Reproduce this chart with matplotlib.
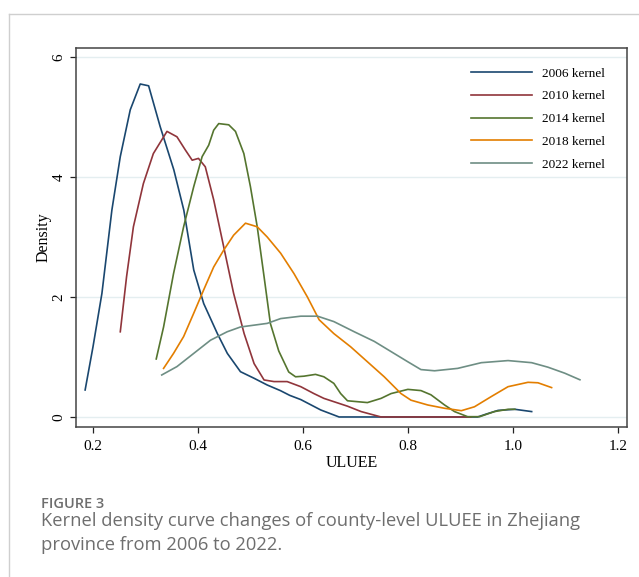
import numpy as np
import matplotlib
matplotlib.use("Agg")
import matplotlib.pyplot as plt
from matplotlib.lines import Line2D

#%% data (ULUEE, density)
x_2006 = [0.185, 0.200, 0.217, 0.236, 0.252, 0.271, 0.290, 0.306, 0.328, 0.354, 0.373, 0.392, 0.411,
          0.437, 0.456, 0.481, 0.507, 0.532, 0.557, 0.575, 0.596, 0.634, 0.669, 0.750, 0.850, 0.933,
          0.950, 0.972, 1.004, 1.036]
y_2006 = [0.45, 1.17, 2.06, 3.45, 4.34, 5.12, 5.55, 5.52, 4.84, 4.12, 3.45, 2.45, 1.89,
          1.39, 1.06, 0.755, 0.645, 0.533, 0.44, 0.36, 0.29, 0.117, 0.0, 0.0, 0.0, 0.0,
          0.05, 0.11, 0.128, 0.09]

x_2010 = [0.252, 0.264, 0.277, 0.296, 0.315, 0.341, 0.360, 0.376, 0.389, 0.401, 0.414, 0.430, 0.449,
          0.468, 0.488, 0.507, 0.526, 0.545, 0.570, 0.596, 0.621, 0.640, 0.685, 0.711, 0.749, 0.850, 0.920]
y_2010 = [1.42, 2.34, 3.17, 3.89, 4.39, 4.76, 4.67, 4.45, 4.28, 4.31, 4.17, 3.62, 2.84,
          2.06, 1.39, 0.89, 0.617, 0.59, 0.59, 0.505, 0.39, 0.31, 0.18, 0.09, 0.0, 0.0, 0.0]

x_2014 = [0.3205, 0.3345, 0.3535, 0.3727, 0.392, 0.408, 0.4205, 0.430, 0.4396, 0.4587, 0.4715, 0.4875,
          0.500, 0.513, 0.526, 0.538, 0.554, 0.573, 0.586, 0.602, 0.624, 0.640, 0.659, 0.672, 0.685,
          0.704, 0.723, 0.749, 0.768, 0.800, 0.825, 0.844, 0.870, 0.889, 0.914, 0.937, 0.965, 0.991, 1.004]
y_2014 = [0.967, 1.5, 2.39, 3.17, 3.84, 4.34, 4.53, 4.78, 4.89, 4.87, 4.76, 4.39,
          3.84, 3.17, 2.34, 1.56, 1.1, 0.75, 0.67, 0.68, 0.71, 0.67, 0.56, 0.39, 0.27,
          0.255, 0.24, 0.31, 0.39, 0.46, 0.44, 0.37, 0.2, 0.09, 0.005, 0.005, 0.09, 0.128, 0.128]

x_2018 = [0.3345, 0.3535, 0.3727, 0.392, 0.411, 0.430, 0.449, 0.468, 0.4906, 0.513, 0.532, 0.5576,
          0.583, 0.6086, 0.631, 0.659, 0.691, 0.723, 0.755, 0.787, 0.806, 0.838, 0.870, 0.902,
          0.927, 0.959, 0.991, 1.029, 1.048, 1.074]
y_2018 = [0.81, 1.06, 1.34, 1.73, 2.12, 2.5, 2.78, 3.03, 3.23, 3.17, 3.0, 2.73,
          2.39, 2.0, 1.62, 1.39, 1.17, 0.92, 0.67, 0.39, 0.28, 0.2, 0.145, 0.105,
          0.17, 0.34, 0.505, 0.578, 0.57, 0.49]

x_2022 = [0.331, 0.360, 0.392, 0.424, 0.4556, 0.481, 0.5065, 0.532, 0.5576, 0.596, 0.628, 0.659,
          0.698, 0.736, 0.768, 0.800, 0.825, 0.851, 0.895, 0.940, 0.991, 1.036, 1.067, 1.099, 1.128]
y_2022 = [0.70, 0.84, 1.06, 1.28, 1.42, 1.5, 1.53, 1.56, 1.64, 1.68, 1.68, 1.59,
          1.42, 1.26, 1.09, 0.92, 0.79, 0.77, 0.81, 0.905, 0.94, 0.905, 0.83, 0.73, 0.62]

labels = ["2006 kernel", "2010 kernel", "2014 kernel", "2018 kernel", "2022 kernel"]
colors = ["#1a476f", "#90353b", "#55752f", "#e37e00", "#6e8e84"]

xticks = [0.2, 0.4, 0.6, 0.8, 1.0, 1.2]
xticklabels = ["0.2", "0.4", "0.6", "0.8", "1.0", "1.2"]
yticks = [0, 2, 4, 6]

caption_head = "FIGURE 3"
caption_lines = ["Kernel density curve changes of county-level ULUEE in Zhejiang",
                 "province from 2006 to 2022."]

#%% figure
plt.rcParams['font.family'] = ['Liberation Serif', 'DejaVu Serif']

fig = plt.figure(figsize=(6.39, 5.77), dpi=100)
ax = fig.add_axes([76/639, 1 - 427/577, 551/639, 379/577])

series = [(x_2006, y_2006), (x_2010, y_2010), (x_2014, y_2014), (x_2018, y_2018), (x_2022, y_2022)]
for (xs, ys), lab, col in zip(series, labels, colors):
    ax.plot(xs, ys, color=col, lw=1.2, label=lab)

ax.set_xlim(0.1676, 1.2177)
ax.set_ylim(-0.167, 6.15)
ax.set_xticks(xticks)
ax.set_xticklabels(xticklabels)
ax.set_yticks(yticks)
ax.set_yticklabels([str(v) for v in yticks], rotation=90, va='center')
ax.yaxis.grid(True, color='#e4eef0', lw=1.0)
ax.set_axisbelow(True)

ax.tick_params(axis='both', direction='out', length=4.5, width=0.9, colors='#222222',
               labelsize=11, labelcolor='black')
ax.tick_params(axis='x', pad=5)
ax.tick_params(axis='y', pad=3)
for s in ax.spines.values():
    s.set_color('#444444')
    s.set_linewidth(1.1)

ax.set_xlabel("ULUEE", fontsize=11.5, labelpad=1)
ax.set_ylabel("Density", fontsize=11.5, labelpad=1)

# legend without frame, text ends near x=604 px
leg = ax.legend(loc='upper right', bbox_to_anchor=(0.960, 0.949), borderaxespad=0,
                fontsize=9.5, handlelength=4.6, handletextpad=0.75, labelspacing=0.8,
                frameon=False, borderpad=0.0)

# outer frame of the page
fig.add_artist(Line2D([9/639, 9/639], [0, 1 - 14/577], color='#cfcfcf', lw=1.0))
fig.add_artist(Line2D([9/639, 1], [1 - 14/577, 1 - 14/577], color='#cfcfcf', lw=1.0))

# caption
fig.text(41.5/639, 1 - 508/577, caption_head, family='Open Sans', weight='semibold',
         fontsize=10.5, color='#6e6e6e', va='baseline')
for i, line in enumerate(caption_lines):
    fig.text(41.5/639, 1 - (526 + 24.5*i)/577, line, family='Open Sans', fontsize=13.2,
             color='#6e6e6e', va='baseline')

plt.savefig("out.png", dpi=100)
